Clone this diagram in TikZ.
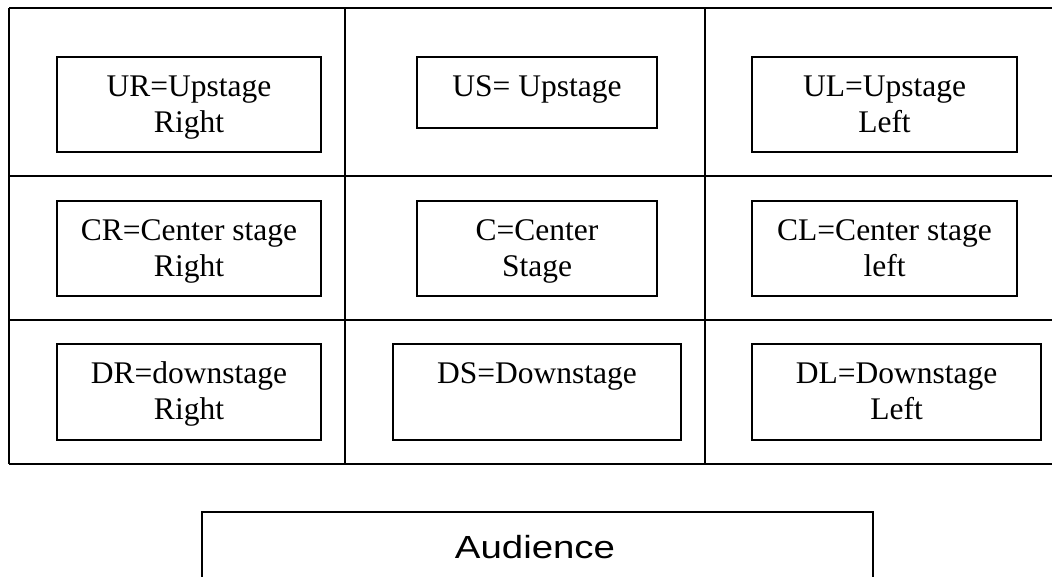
\documentclass[tikz,border=0pt]{standalone}
\usepackage{fontspec}
\setmainfont{Liberation Serif}
\newfontfamily\audfont{Liberation Sans}
\begin{document}
\begin{tikzpicture}[x=1pt,y=-1pt,
  gridline/.style={line width=1.9pt,black},
  box/.style={draw,line width=1.9pt,rectangle,inner sep=0pt},
  lbl/.style={font=\fontsize{31.5}{36}\selectfont,align=center,inner sep=0pt,anchor=base},
  twoline/.style={yshift=-36pt}]
\useasboundingbox (0,0) rectangle (1052,577);
% stage grid
\foreach \yy in {8,176,320,464} \draw[gridline] (9,\yy) -- (1052,\yy);
\foreach \xx in {9,345,705} \draw[gridline] (\xx,8) -- (\xx,464);
% boxes
\node[box,minimum width=264pt,minimum height=95pt] (ur) at (189,104.5) {};
\node[box,minimum width=240pt,minimum height=71pt] (us) at (537,92.5) {};
\node[box,minimum width=265pt,minimum height=95pt] (ul) at (884.5,104.5) {};
\node[box,minimum width=264pt,minimum height=95pt] (cr) at (189,248.5) {};
\node[box,minimum width=240pt,minimum height=95pt] (c) at (537,248.5) {};
\node[box,minimum width=265pt,minimum height=95pt] (cl) at (884.5,248.5) {};
\node[box,minimum width=264pt,minimum height=96pt] (dr) at (189,392) {};
\node[box,minimum width=288pt,minimum height=96pt] (ds) at (537,392) {};
\node[box,minimum width=289pt,minimum height=96pt] (dl) at (896.5,392) {};
% labels
\node[lbl,twoline] (urt) at ([yshift=-40pt]ur.north) {UR=Upstage\\Right};
\node[lbl] (ust) at ([yshift=-40pt]us.north) {US= Upstage};
\node[lbl,twoline] (ult) at ([yshift=-40pt]ul.north) {UL=Upstage\\Left};
\node[lbl,twoline] (crt) at ([yshift=-40pt]cr.north) {CR=Center stage\\Right};
\node[lbl,twoline] (ct) at ([yshift=-40pt]c.north) {C=Center\\Stage};
\node[lbl,twoline] (clt) at ([yshift=-40pt]cl.north) {CL=Center stage\\left};
\node[lbl,twoline] (drt) at ([yshift=-40pt]dr.north) {DR=downstage\\Right};
\node[lbl] (dst) at ([yshift=-40pt]ds.north) {DS=Downstage};
\node[lbl,twoline] (dlt) at ([yshift=-40pt]dl.north) {DL=Downstage\\Left};
% audience
\draw[gridline] (202,580) -- (202,512) -- (873,512) -- (873,580);
\node[anchor=base,inner sep=0pt,font=\audfont\fontsize{32}{38}\selectfont] (aud) at (535,558) {\scalebox{1.2}[1]{Audience}};
\end{tikzpicture}
\end{document}
